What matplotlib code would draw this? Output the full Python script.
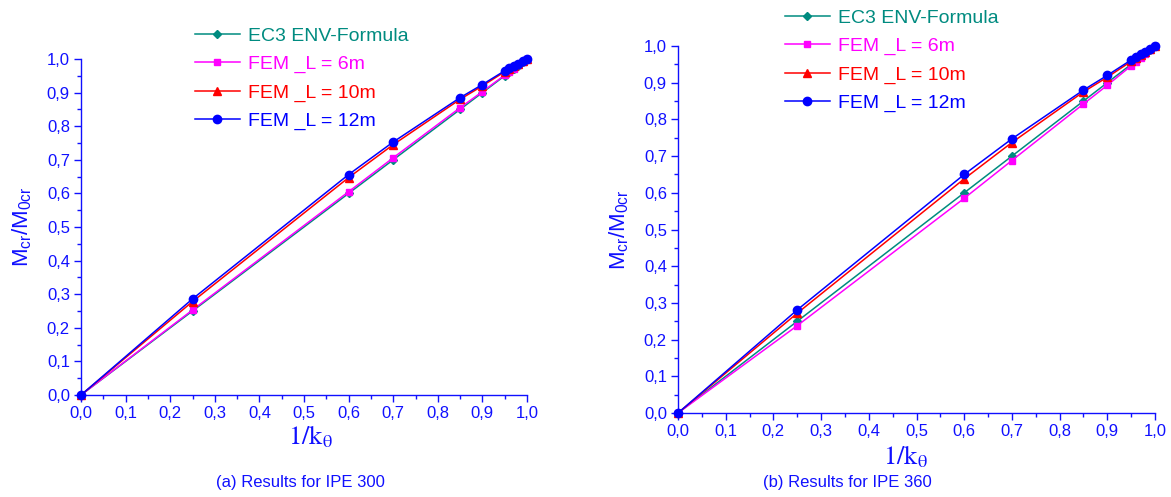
import matplotlib
matplotlib.use("Agg")
import matplotlib.pyplot as plt
from matplotlib.ticker import MultipleLocator, FuncFormatter

# ---- data ----
x_vals = [0.0, 0.25, 0.6, 0.7, 0.85, 0.9, 0.95, 0.96, 0.97, 0.98, 0.99, 1.0]

# (a) IPE 300
a_ec3 = [0.0, 0.25, 0.6, 0.7, 0.85, 0.9, 0.95, 0.96, 0.97, 0.98, 0.99, 1.0]
a_l6 = [0.0, 0.253, 0.605, 0.706, 0.855, 0.903, 0.952, 0.962, 0.971, 0.981, 0.990, 1.0]
a_l10 = [0.0, 0.278, 0.647, 0.745, 0.880, 0.920, 0.962, 0.970, 0.978, 0.985, 0.993, 1.0]
a_l12 = [0.0, 0.286, 0.656, 0.753, 0.885, 0.924, 0.965, 0.972, 0.979, 0.986, 0.993, 1.0]

# (b) IPE 360
b_ec3 = [0.0, 0.25, 0.6, 0.7, 0.85, 0.9, 0.95, 0.96, 0.97, 0.98, 0.99, 1.0]
b_l6 = [0.0, 0.238, 0.585, 0.688, 0.842, 0.893, 0.946, 0.957, 0.967, 0.978, 0.989, 1.0]
b_l10 = [0.0, 0.272, 0.638, 0.737, 0.875, 0.915, 0.958, 0.967, 0.975, 0.983, 0.992, 1.0]
b_l12 = [0.0, 0.281, 0.650, 0.747, 0.880, 0.920, 0.962, 0.970, 0.977, 0.985, 0.993, 1.0]

labels = ["EC3 ENV-Formula", "FEM _L = 6m", "FEM _L = 10m", "FEM _L = 12m"]
colors = ["#008b80", "#ff00ff", "#ff0000", "#0000ff"]
markers = ["D", "s", "^", "o"]
msizes = [4, 5, 5.5, 6]
tick_vals = [0.0, 0.1, 0.2, 0.3, 0.4, 0.5, 0.6, 0.7, 0.8, 0.9, 1.0]

captions = ["(a) Results for IPE 300", "(b) Results for IPE 360"]

AX_BLUE = "#1010ff"
plt.rcParams['font.family'] = ['Liberation Sans', 'DejaVu Sans']
plt.rcParams['mathtext.fontset'] = 'stix'

fig = plt.figure(figsize=(11.71, 4.97), dpi=100)

ax_a = fig.add_axes([81 / 1171, 1 - 395 / 497, 446 / 1171, 336 / 497])
ax_b = fig.add_axes([678 / 1171, 1 - 413 / 497, 477 / 1171, 367 / 497])

fmt = FuncFormatter(lambda v, p: f"{v:.1f}".replace(".", ","))


def style(ax):
    ax.set_xlim(0, 1.0)
    ax.set_ylim(0, 1.0)
    for s in ["top", "right"]:
        ax.spines[s].set_visible(False)
    for s in ["left", "bottom"]:
        ax.spines[s].set_color(AX_BLUE)
        ax.spines[s].set_linewidth(1.0)
    ax.set_xticks(tick_vals)
    ax.set_yticks(tick_vals)
    ax.xaxis.set_minor_locator(MultipleLocator(0.05))
    ax.yaxis.set_minor_locator(MultipleLocator(0.05))
    ax.xaxis.set_major_formatter(fmt)
    ax.yaxis.set_major_formatter(fmt)
    ax.tick_params(which="major", direction="out", length=5, width=1, colors=AX_BLUE,
                   labelsize=12, labelcolor=AX_BLUE, pad=3)
    ax.tick_params(which="minor", direction="out", length=3, width=1, colors=AX_BLUE)
    ax.set_ylabel(r"$\mathregular{M_{cr}/M_{0cr}}$", color=AX_BLUE, fontsize=16, labelpad=9)


series_a = [a_ec3, a_l6, a_l10, a_l12]
series_b = [b_ec3, b_l6, b_l10, b_l12]

handles = []
for ax, series in [(ax_a, series_a), (ax_b, series_b)]:
    style(ax)
    hs = []
    for ys, lab, c, m, ms in zip(series, labels, colors, markers, msizes):
        h, = ax.plot(x_vals, ys, color=c, marker=m, markersize=ms, linewidth=1.1,
                     label=lab, clip_on=False, zorder=3)
        hs.append(h)
    handles.append(hs)

# x labels (serif)
xlab = r"$\mathrm{1/k_{θ}}$"
fig.text(310 / 1171, 1 - 437 / 497, xlab, fontsize=19, color=AX_BLUE, ha="center", va="center")
fig.text(905 / 1171, 1 - 457 / 497, xlab, fontsize=19, color=AX_BLUE, ha="center", va="center")

# captions
fig.text(300 / 1171, 1 - 483 / 497, captions[0], fontsize=12, color=AX_BLUE, ha="center", va="center")
fig.text(847 / 1171, 1 - 483 / 497, captions[1], fontsize=12, color=AX_BLUE, ha="center", va="center")

# legends
for hs, (lx, ly) in zip(handles, [(195, 27), (785, 9)]):
    leg = fig.legend(hs, labels, loc="upper left", bbox_to_anchor=(lx / 1171, 1 - ly / 497),
                     frameon=False, fontsize=14, handlelength=2.3, handletextpad=0.4,
                     labelspacing=0.55, borderpad=0, borderaxespad=0)
    for t, c in zip(leg.get_texts(), colors):
        t.set_color(c)

fig.savefig("out.png", dpi=100)
